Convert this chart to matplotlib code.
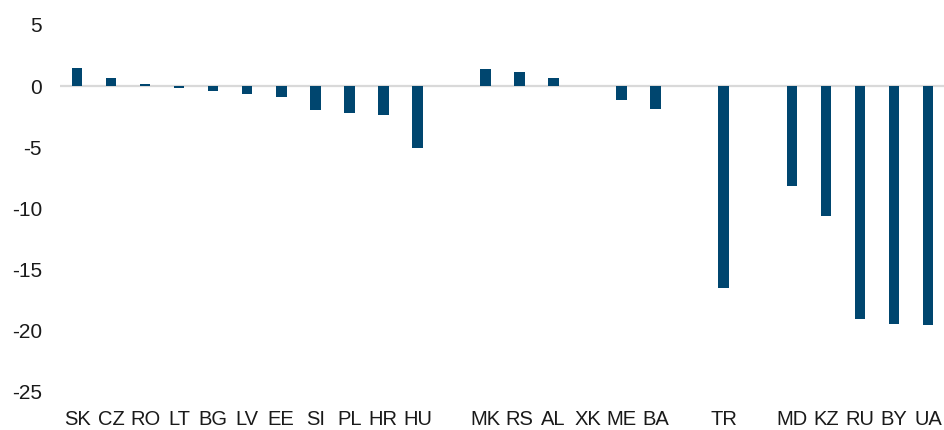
import numpy as np
import matplotlib
matplotlib.use("Agg")
import matplotlib.pyplot as plt

plt.rcParams["font.family"] = ["Liberation Sans", "DejaVu Sans"]

# country codes per slot; empty strings are spacer slots between regional groups
labels = ["SK", "CZ", "RO", "LT", "BG", "LV", "EE", "SI", "PL", "HR", "HU", "",
          "MK", "RS", "AL", "XK", "ME", "BA", "",
          "TR", "",
          "MD", "KZ", "RU", "BY", "UA"]
values = [1.45, 0.68, 0.16, -0.12, -0.38, -0.63, -0.87, -1.97, -2.2, -2.35, -5.03, np.nan,
          1.37, 1.15, 0.68, 0.0, -1.15, -1.86, np.nan,
          -16.5, np.nan,
          -8.14, -10.6, -19.07, -19.45, -19.55]

BAR = "#00466f"

fig = plt.figure(figsize=(9.45, 4.3), dpi=100)
ax = fig.add_axes([60 / 945, 1 - 392 / 430, 1 - 60 / 945, 367 / 430])

x = np.arange(len(labels))
ax.axhline(0, color="#d9d9d9", lw=1.6, zorder=1)
ax.bar(x, values, width=0.31, color=BAR, zorder=2)

ax.set_xlim(-0.5, len(labels) - 0.5)
ax.set_ylim(-25, 5)
ax.set_yticks([5, 0, -5, -10, -15, -20, -25])
ax.set_yticklabels(["5", "0", "-5", "-10", "-15", "-20", "-25"])
ax.set_xticks(x)
ax.set_xticklabels(labels)

ax.tick_params(axis="y", length=0, pad=13, labelsize=15, labelcolor="#1a1a1a")
ax.tick_params(axis="x", length=0, pad=13, labelsize=14.5, labelcolor="#1a1a1a")
for s in ax.spines.values():
    s.set_visible(False)

fig.savefig("out.png", dpi=100)
